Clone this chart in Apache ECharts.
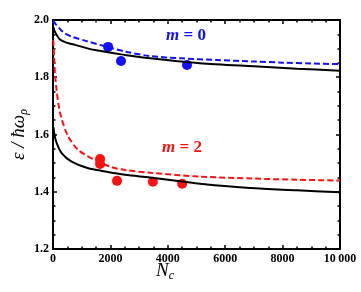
<!DOCTYPE html>
<html><head><meta charset="utf-8">
<script src="https://cdn.jsdelivr.net/npm/echarts@6/dist/echarts.min.js"></script>
<style>html,body{margin:0;padding:0;background:#fff}#c{width:361px;height:292px}</style>
</head><body><div id="c"></div>
<script>
// Theory curves (N_c, energy)
const blueDashedN = [0, 100, 250, 420, 700, 1110, 1810, 2500, 3380, 4500, 5710, 7000, 8010, 9000, 10000];
const blueDashedE = [1.998, 1.985, 1.968, 1.953, 1.940, 1.928, 1.908, 1.890, 1.874, 1.866, 1.860, 1.855, 1.851, 1.848, 1.846];
const blackUpperN = [15, 70, 240, 500, 770, 1460, 2500, 3380, 5120, 7000, 8500, 10000];
const blackUpperE = [1.975, 1.958, 1.932, 1.920, 1.913, 1.895, 1.878, 1.866, 1.849, 1.838, 1.830, 1.823];
const redDashedN = [10, 40, 70, 120, 200, 300, 530, 880, 1460, 2040, 2510, 3400, 5120, 7000, 8500, 10000];
const redDashedE = [1.93, 1.87, 1.81, 1.76, 1.70, 1.655, 1.593, 1.546, 1.511, 1.486, 1.476, 1.466, 1.453, 1.446, 1.442, 1.439];
const blackLowerN = [15, 60, 128, 300, 650, 1230, 1640, 2510, 3380, 4500, 5120, 6860, 8500, 10000];
const blackLowerE = [1.625, 1.595, 1.570, 1.535, 1.505, 1.482, 1.474, 1.459, 1.450, 1.436, 1.428, 1.413, 1.405, 1.398];
// Data points
const m0N = [1920, 2370, 4670];
const m0E = [1.906, 1.857, 1.843];
const m2N = [1640, 1640, 2230, 3480, 4500];
const m2E = [1.514, 1.497, 1.438, 1.435, 1.428];
// Ticks
const xTicks = [0, 2000, 4000, 6000, 8000, 10000];
const xTickLabels = ['0', '2000', '4000', '6000', '8000', '10\u2009000'];
const yTickLabels = ['1.2', '1.4', '1.6', '1.8', '2.0'];

const zip = (a, b) => a.map((v, i) => [v, b[i]]);
const chart = echarts.init(document.getElementById('c'));
const serif = 'Liberation Serif';
const BLUE = '#1010ff', RED = '#ff1010';
const tickStyle = {show: true, inside: true, length: 4, lineStyle: {color: '#000', width: 1.5}};
const minor = {show: true, splitNumber: 4, length: 2.5, lineStyle: {color: '#000', width: 1.5}};
const axisLine = {show: true, onZero: false, lineStyle: {color: '#000', width: 2}};
const lbl = {fontFamily: serif, fontWeight: 'bold', fontSize: 12, color: '#000', margin: 4};
chart.setOption({
  animation: false,
  backgroundColor: '#fff',
  grid: {left: 53, right: 21, top: 20, bottom: 43},
  xAxis: [
    {type: 'value', min: 0, max: 10000, interval: 2000, axisLine, axisTick: tickStyle, minorTick: minor,
     splitLine: {show: false},
     axisLabel: Object.assign({}, lbl, {formatter: v => xTickLabels[xTicks.indexOf(v)]})},
    {type: 'value', position: 'top', min: 0, max: 10000, interval: 2000, axisLine, axisTick: tickStyle, minorTick: minor,
     splitLine: {show: false}, axisLabel: {show: false}}
  ],
  yAxis: [
    {type: 'value', min: 1.2, max: 2.0, interval: 0.2, axisLine, axisTick: tickStyle, minorTick: minor,
     splitLine: {show: false},
     axisLabel: Object.assign({}, lbl, {formatter: v => yTickLabels[Math.round((v - 1.2) / 0.2)]})},
    {type: 'value', position: 'right', min: 1.2, max: 2.0, interval: 0.2, axisLine, axisTick: tickStyle, minorTick: minor,
     splitLine: {show: false}, axisLabel: {show: false}}
  ],
  series: [
    {type: 'line', data: zip(blackUpperN, blackUpperE), smooth: 0.3, showSymbol: false, lineStyle: {color: '#000', width: 2}},
    {type: 'line', data: zip(blackLowerN, blackLowerE), smooth: 0.3, showSymbol: false, lineStyle: {color: '#000', width: 2}},
    {type: 'line', data: zip(blueDashedN, blueDashedE), smooth: 0.3, showSymbol: false, lineStyle: {color: BLUE, width: 2, type: [6, 3]}},
    {type: 'line', data: zip(redDashedN, redDashedE), smooth: 0.3, showSymbol: false, lineStyle: {color: RED, width: 2, type: [6, 3]}},
    {type: 'scatter', data: zip(m0N, m0E), symbolSize: 10, itemStyle: {color: BLUE, opacity: 1}},
    {type: 'scatter', data: zip(m2N, m2E), symbolSize: 10, itemStyle: {color: RED, opacity: 1}}
  ],
  graphic: [
    {type: 'text', left: 166, top: 27, style: {text: '{i|m} = 0', fill: BLUE, font: 'bold 17px "Liberation Serif"',
      rich: {i: {fontStyle: 'italic', fontWeight: 'bold', fontSize: 17, fontFamily: serif, fill: BLUE}}}},
    {type: 'text', left: 162, top: 139, style: {text: '{i|m} = 2', fill: RED, font: 'bold 17px "Liberation Serif"',
      rich: {i: {fontStyle: 'italic', fontWeight: 'bold', fontSize: 17, fontFamily: serif, fill: RED}}}},
    {type: 'text', left: 156, top: 261, style: {text: '{n|N}{s|c}', fill: '#000',
      rich: {n: {fontStyle: 'italic', fontSize: 19, fontFamily: serif, fill: '#000'},
             s: {fontStyle: 'italic', fontSize: 12, fontFamily: serif, fill: '#000', padding: [10, 0, 0, 0]}}}},
    {type: 'text', x: 8, y: 160, rotation: Math.PI / 2, style: {text: '{n|ε / ħω}{s|ρ}', fill: '#000',
      rich: {n: {fontStyle: 'italic', fontSize: 19, fontFamily: serif, fill: '#000'},
             s: {fontStyle: 'italic', fontSize: 12, fontFamily: serif, fill: '#000', padding: [10, 0, 0, 0]}}}}
  ]
});
</script></body></html>
